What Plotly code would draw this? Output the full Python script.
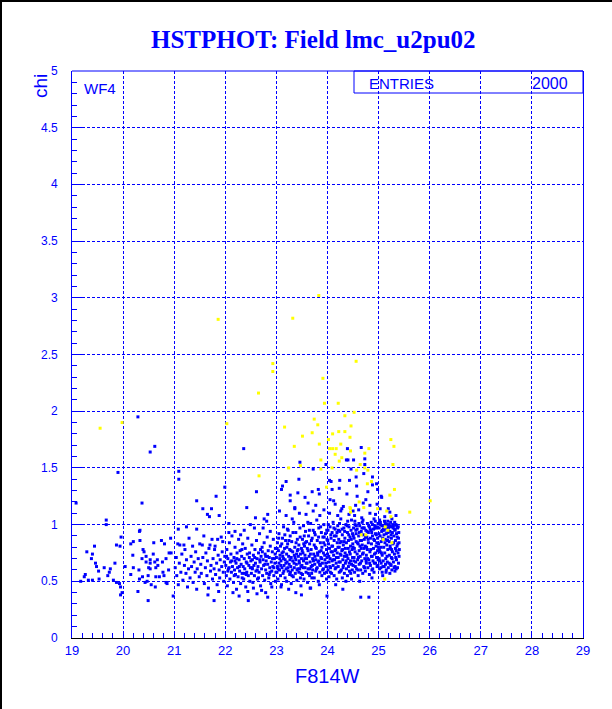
import plotly.graph_objects as go

# ---------------- data ----------------
title_text = "HSTPHOT: Field lmc_u2pu02"
x_label = "F814W"
y_label = "chi"
field_label = "WF4"
entries_label = "ENTRIES"
entries_value = "2000"
x_range = [19, 29]
y_range = [0, 5]
y_tick_vals = [0, 0.5, 1, 1.5, 2, 2.5, 3, 3.5, 4, 4.5, 5]
y_tick_text = ["0", "0.5", "1", "1.5", "2", "2.5", "3", "3.5", "4", "4.5", "5"]

blue_19_21 = [
    (19.17,0.50),(19.24,0.54),(19.26,0.56),(19.29,0.76),(19.32,0.51),(19.38,0.70),(19.40,0.74),
    (19.40,0.51),(19.44,0.81),(19.46,0.66),(19.48,0.63),(19.52,0.59),(19.53,0.52),(19.63,0.62),
    (19.67,1.00),(19.70,0.55),(19.73,0.58),(19.75,0.61),(19.81,0.51),(19.84,0.66),(19.87,0.82),
    (19.87,0.49),(19.93,0.48),(19.94,0.81),(19.95,0.45),(19.95,0.38),(19.96,0.89),(19.98,0.40),
    (20.04,0.63),(20.15,0.83),(20.15,0.56),(20.19,0.73),(20.20,0.85),(20.20,0.62),(20.29,0.41),
    (20.31,0.60),(20.32,0.94),(20.32,0.52),(20.33,0.86),(20.37,0.70),(20.38,0.54),(20.39,0.78),
    (20.41,0.76),(20.43,0.49),(20.45,0.72),(20.45,0.67),(20.47,0.50),(20.49,0.55),(20.49,0.33),
    (20.50,0.62),(20.53,0.69),(20.53,0.66),(20.53,0.61),(20.55,0.47),(20.59,0.74),(20.60,0.84),
    (20.62,0.67),(20.63,0.45),(20.64,0.54),(20.64,0.62),(20.67,0.69),(20.68,0.64),(20.71,0.54),
    (20.75,0.86),(20.77,0.67),(20.78,0.58),(20.80,0.55),(20.81,0.83),(20.84,0.70),(20.84,0.49),
    (20.86,0.48),(20.89,0.60),(20.90,0.75),(20.93,0.88),(20.94,0.75),(20.98,0.37),(20.33,0.95),
]

blue_21_23 = [
    (21.02,0.62),(21.04,0.71),(21.05,0.55),(21.07,0.83),(21.08,0.47),(21.10,0.66),(21.11,0.82),
    (21.13,0.58),(21.15,0.74),(21.17,0.51),(21.19,0.82),(21.20,0.64),(21.21,0.78),(21.23,0.57),
    (21.24,0.69),(21.26,0.45),(21.28,0.61),(21.29,0.88),(21.31,0.53),(21.33,0.72),(21.34,0.63),
    (21.36,0.81),(21.37,0.49),(21.39,0.67),(21.41,0.58),(21.42,0.76),(21.44,0.43),(21.45,0.61),
    (21.47,0.70),(21.49,0.54),(21.08,0.96),(21.24,0.98),(21.44,0.96),
    (21.50,0.83),(21.52,0.65),(21.53,0.57),(21.55,0.82),(21.56,0.71),(21.58,0.90),(21.59,0.48),
    (21.61,0.62),(21.62,0.75),(21.64,0.55),(21.65,0.68),(21.67,0.44),(21.68,0.79),(21.70,0.82),
    (21.71,0.59),(21.72,0.64),(21.74,0.87),(21.75,0.52),(21.76,0.70),(21.78,0.61),(21.79,0.78),
    (21.80,0.81),(21.81,0.56),(21.83,0.66),(21.84,0.47),(21.85,0.87),(21.86,0.73),(21.88,0.60),
    (21.89,0.53),(21.90,0.69),(21.92,0.89),(21.93,0.63),(21.94,0.76),(21.95,0.85),(21.96,0.58),
    (21.97,0.50),(21.98,0.67),(21.99,0.72),(21.87,0.41),(21.66,0.38),
    (22.01,0.64),(22.02,0.55),(22.03,0.78),(22.04,0.46),(22.05,0.70),(22.06,0.61),(22.08,0.84),
    (22.09,0.52),(22.10,0.67),(22.11,0.74),(22.12,0.58),(22.13,0.90),(22.14,0.63),(22.16,0.49),
    (22.17,0.71),(22.18,0.60),(22.19,0.80),(22.20,0.56),(22.21,0.66),(22.22,0.43),(22.23,0.75),
    (22.24,0.62),(22.25,0.54),(22.26,0.87),(22.27,0.69),(22.28,0.59),(22.29,0.77),(22.30,0.48),
    (22.31,0.65),(22.32,0.72),(22.33,0.57),(22.34,0.83),(22.35,0.63),(22.36,0.52),(22.37,0.70),
    (22.38,0.61),(22.39,0.79),(22.40,0.45),(22.41,0.67),(22.42,0.58),(22.43,0.74),(22.44,0.88),
    (22.45,0.55),(22.46,0.64),(22.47,0.71),(22.48,0.50),(22.49,0.62),(22.15,0.40),(22.27,0.37),
    (22.44,0.41),(22.07,0.93),(22.33,0.53),(22.19,0.68),(22.41,0.56),(22.05,0.59),(22.19,0.94),
    (22.30,0.91),(22.37,0.95),(22.49,1.00),
    (22.50,0.68),(22.51,0.57),(22.52,0.82),(22.53,0.61),(22.54,0.49),(22.55,0.73),(22.56,0.64),
    (22.57,0.55),(22.58,0.78),(22.59,0.66),(22.60,0.59),(22.61,0.86),(22.62,0.70),(22.63,0.52),
    (22.64,0.63),(22.65,0.75),(22.66,0.58),(22.67,0.92),(22.68,0.67),(22.69,0.46),(22.70,0.72),
    (22.71,0.61),(22.72,0.80),(22.73,0.55),(22.74,0.69),(22.75,0.64),(22.76,0.84),(22.77,0.51),
    (22.78,0.74),(22.79,0.60),(22.80,0.68),(22.81,0.57),(22.82,0.89),(22.83,0.65),(22.84,0.77),
    (22.85,0.53),(22.86,0.71),(22.87,0.62),(22.88,0.81),(22.89,0.48),(22.90,0.67),(22.91,0.59),
    (22.92,0.76),(22.93,0.63),(22.94,0.87),(22.95,0.55),(22.96,0.70),(22.97,0.66),(22.98,0.79),
    (22.99,0.58),(22.55,0.44),(22.62,0.39),(22.71,0.42),(22.83,0.36),(22.91,0.45),(22.57,0.97),
    (22.74,0.97),(22.88,0.94),(22.65,0.53),(22.79,0.72),(22.95,0.62),(22.53,0.69),(22.86,0.56),
    (22.69,0.78),(22.98,0.50),
    (22.025,0.72),(22.075,0.62),(22.125,0.68),(22.175,0.55),(22.225,0.70),(22.275,0.63),
    (22.325,0.78),(22.375,0.57),(22.425,0.66),(22.475,0.75),(22.525,0.62),(22.575,0.71),
    (22.625,0.60),(22.675,0.69),(22.725,0.76),(22.775,0.65),(22.825,0.72),(22.875,0.58),
    (22.925,0.70),(22.975,0.74),
]

blue_23_24 = [
    (23.00,0.71),(23.01,0.58),(23.02,0.84),(23.02,0.63),(23.03,0.52),(23.04,0.77),(23.05,0.66),
    (23.05,0.92),(23.06,0.60),(23.07,0.73),(23.08,0.55),(23.08,0.81),(23.09,0.68),(23.10,0.47),
    (23.11,0.75),(23.11,0.62),(23.12,0.88),(23.13,0.57),(23.14,0.70),(23.14,0.98),(23.15,0.64),
    (23.16,0.79),(23.17,0.53),(23.17,0.69),(23.18,0.86),(23.19,0.61),(23.20,0.74),(23.20,0.50),
    (23.21,0.67),(23.22,0.83),(23.23,0.59),(23.23,0.95),(23.24,0.72),(23.25,0.65),(23.26,0.56),
    (23.26,0.78),(23.27,0.90),(23.28,0.63),(23.29,0.71),(23.29,0.48),(23.30,0.85),(23.31,0.60),
    (23.32,0.76),(23.32,0.68),(23.33,0.54),(23.34,1.02),(23.35,0.73),(23.35,0.62),(23.36,0.80),
    (23.37,0.57),(23.38,0.69),(23.38,0.93),(23.39,0.65),(23.40,0.51),(23.41,0.77),(23.41,0.87),
    (23.42,0.61),(23.43,0.72),(23.44,0.58),(23.44,0.82),(23.45,0.66),(23.46,0.97),(23.47,0.74),
    (23.47,0.53),(23.48,0.63),(23.49,0.79),(23.49,0.70),
    (23.06,1.12),(23.19,1.08),(23.27,1.21),(23.36,1.15),(23.42,1.28),(23.12,1.34),(23.31,1.05),
    (23.45,1.10),(23.24,0.43),(23.38,0.40),(23.09,0.45),(23.48,0.46),
    (23.50,0.64),(23.51,0.87),(23.51,0.56),(23.52,0.75),(23.53,0.99),(23.53,0.68),(23.54,0.52),
    (23.55,0.81),(23.56,0.62),(23.56,0.73),(23.57,0.94),(23.58,0.58),(23.59,0.70),(23.59,0.85),
    (23.60,0.66),(23.61,0.49),(23.62,0.77),(23.62,0.61),(23.63,0.90),(23.64,0.72),(23.65,0.55),
    (23.65,0.83),(23.66,0.67),(23.67,1.01),(23.68,0.63),(23.68,0.78),(23.69,0.57),(23.70,0.88),
    (23.71,0.70),(23.71,0.60),(23.72,0.95),(23.73,0.74),(23.74,0.53),(23.74,0.82),(23.75,0.65),
    (23.76,0.91),(23.77,0.69),(23.77,0.59),(23.78,0.79),(23.79,1.04),(23.80,0.62),(23.80,0.86),
    (23.81,0.73),(23.82,0.50),(23.83,0.68),(23.83,0.97),(23.84,0.76),(23.85,0.58),(23.86,0.84),
    (23.86,0.64),(23.87,0.71),(23.88,0.93),(23.89,0.55),(23.89,0.80),(23.90,0.66),(23.91,0.89),
    (23.92,0.61),(23.92,0.75),(23.93,1.00),(23.94,0.57),(23.95,0.82),(23.95,0.69),(23.96,0.92),
    (23.97,0.63),(23.98,0.78),(23.98,0.52),(23.99,0.87),(23.99,0.71),(23.58,1.09),(23.77,1.17),
    (23.93,1.13),(23.66,0.44),(23.84,0.47),
]

blue_24_25 = [
    (24.00,0.74),(24.01,0.60),(24.01,0.95),(24.02,0.83),(24.03,0.67),(24.03,0.54),(24.04,0.79),
    (24.05,0.98),(24.05,0.70),(24.06,0.62),(24.07,0.88),(24.07,0.76),(24.08,0.57),(24.09,0.93),
    (24.09,0.68),(24.10,0.81),(24.11,0.64),(24.11,1.02),(24.12,0.73),(24.13,0.55),(24.13,0.86),
    (24.14,0.69),(24.15,0.96),(24.15,0.61),(24.16,0.78),(24.17,0.90),(24.17,0.66),(24.18,0.52),
    (24.19,0.84),(24.19,0.75),(24.20,0.99),(24.21,0.63),(24.21,0.71),(24.22,0.87),(24.23,0.58),
    (24.23,0.80),(24.24,0.94),(24.25,0.67),(24.25,0.74),(24.26,1.05),(24.27,0.60),(24.27,0.85),
    (24.28,0.77),(24.29,0.53),(24.29,0.91),(24.30,0.69),(24.31,0.82),(24.31,0.64),(24.32,0.97),
    (24.33,0.72),(24.33,0.57),(24.34,0.88),(24.35,0.79),(24.35,0.66),(24.36,1.00),(24.37,0.61),
    (24.37,0.84),(24.38,0.73),(24.39,0.93),(24.39,0.55),(24.40,0.70),(24.41,0.86),(24.41,0.63),
    (24.42,0.98),(24.43,0.76),(24.43,0.59),(24.44,0.89),(24.45,0.68),(24.45,0.81),(24.46,0.95),
    (24.47,0.65),(24.47,0.52),(24.48,0.78),(24.49,0.92),(24.49,0.71),
    (24.04,1.10),(24.12,1.21),(24.20,1.08),(24.31,1.16),(24.38,1.27),(24.47,1.04),(24.09,1.31),
    (24.26,1.12),(24.42,1.09),(24.16,0.47),(24.36,0.50),
    (24.50,0.80),(24.50,0.64),(24.51,0.97),(24.52,0.71),(24.52,0.88),(24.53,0.58),(24.54,0.76),
    (24.54,1.00),(24.55,0.67),(24.56,0.85),(24.56,0.92),(24.57,0.61),(24.58,0.74),(24.58,0.96),
    (24.59,0.69),(24.60,0.83),(24.60,0.55),(24.61,0.90),(24.62,0.77),(24.62,0.65),(24.63,0.99),
    (24.64,0.72),(24.64,0.86),(24.65,0.60),(24.66,0.94),(24.66,0.79),(24.67,0.68),(24.68,1.02),
    (24.68,0.82),(24.69,0.57),(24.70,0.91),(24.70,0.75),(24.71,0.63),(24.72,0.97),(24.72,0.87),
    (24.73,0.70),(24.74,0.81),(24.74,0.59),(24.75,0.95),(24.76,0.73),(24.76,0.66),(24.77,0.89),
    (24.78,1.01),(24.78,0.78),(24.79,0.62),(24.80,0.93),(24.80,0.84),(24.81,0.69),(24.82,0.56),
    (24.82,0.98),(24.83,0.76),(24.84,0.88),(24.84,0.64),(24.85,0.95),(24.86,0.72),(24.86,0.83),
    (24.87,0.60),(24.88,1.00),(24.88,0.90),(24.89,0.68),(24.90,0.79),(24.90,0.96),(24.91,0.58),
    (24.92,0.86),(24.92,0.74),(24.93,0.99),(24.94,0.66),(24.94,0.92),(24.95,0.81),(24.96,0.71),
    (24.96,0.97),(24.97,0.63),(24.98,0.88),(24.98,0.77),(24.99,1.01),(24.99,0.69),
    (24.53,1.08),(24.61,1.13),(24.67,1.06),(24.75,1.22),(24.83,1.10),(24.91,1.05),(24.97,1.18),
    (24.58,1.25),(24.79,1.29),(24.63,0.50),(24.87,0.53),(24.55,1.17),(24.94,1.09),
]

blue_25_up = [
    (25.00,0.83),(25.01,0.70),(25.01,0.97),(25.02,0.61),(25.03,0.90),(25.03,0.76),(25.04,1.00),
    (25.05,0.66),(25.05,0.85),(25.06,0.94),(25.07,0.73),(25.07,0.58),(25.08,0.88),(25.09,0.99),
    (25.09,0.68),(25.10,0.80),(25.11,0.63),(25.11,0.95),(25.12,0.75),(25.13,0.87),(25.13,1.01),
    (25.14,0.70),(25.15,0.60),(25.15,0.92),(25.16,0.82),(25.17,0.97),(25.17,0.67),(25.18,0.78),
    (25.19,0.89),(25.19,0.62),(25.20,1.00),(25.21,0.73),(25.21,0.85),(25.22,0.94),(25.23,0.65),
    (25.23,0.79),(25.24,0.98),(25.25,0.71),(25.25,0.88),(25.26,0.60),(25.27,0.93),(25.27,0.76),
    (25.28,0.83),(25.29,0.99),(25.29,0.67),(25.30,0.90),(25.31,0.74),(25.31,0.96),(25.32,0.63),
    (25.33,0.86),(25.33,0.79),(25.34,1.00),(25.35,0.69),(25.35,0.92),(25.36,0.81),(25.37,0.62),
    (25.37,0.97),(25.38,0.75),(25.39,0.88),(25.39,0.66),(25.02,1.04),(25.12,1.07),(25.18,1.03),
    (25.26,1.05),(25.34,1.08),(25.08,0.55),(25.22,0.57),(25.32,0.59),(25.40,0.72),(25.40,0.84),
]

blue_core_extra = [
    (23.015,0.79),(23.035,0.61),(23.045,0.88),(23.065,0.70),(23.085,0.64),(23.105,0.83),
    (23.125,0.72),(23.145,0.59),(23.165,0.91),(23.185,0.66),(23.205,0.80),(23.225,0.62),
    (23.245,0.86),(23.265,0.69),(23.285,0.77),(23.305,0.55),(23.325,0.93),(23.345,0.66),
    (23.365,0.71),(23.385,0.84),(23.405,0.60),(23.425,0.78),(23.445,0.68),(23.465,0.89),
    (23.485,0.57),(23.135,0.76),(23.275,0.58),(23.395,0.74),(23.215,0.96),(23.455,0.61),
    (23.505,0.77),(23.525,0.62),(23.545,0.90),(23.565,0.84),(23.585,0.66),(23.605,0.79),
    (23.625,0.57),(23.645,0.95),(23.665,0.74),(23.685,0.86),(23.705,0.64),(23.725,0.68),
    (23.745,0.93),(23.765,0.80),(23.785,0.61),(23.805,0.75),(23.825,0.89),(23.845,0.65),
    (23.865,0.98),(23.885,0.70),(23.905,0.60),(23.925,0.84),(23.945,0.73),(23.965,0.66),
    (23.985,0.95),(23.555,0.70),(23.615,1.02),(23.695,0.53),(23.755,0.72),(23.815,0.67),
    (23.875,0.77),(23.935,0.89),(23.975,0.58),(23.535,0.83),(23.655,0.61),
    (24.005,0.86),(24.025,0.72),(24.045,0.63),(24.065,0.91),(24.085,0.81),(24.105,0.69),
    (24.125,0.97),(24.145,0.77),(24.165,0.62),(24.185,0.93),(24.205,0.80),(24.225,0.67),
    (24.245,0.84),(24.265,0.73),(24.285,0.96),(24.305,0.62),(24.325,0.85),(24.345,0.75),
    (24.365,0.68),(24.385,0.99),(24.405,0.79),(24.425,0.66),(24.445,0.74),(24.465,0.87),
    (24.485,0.60),(24.015,1.00),(24.055,0.58),(24.095,0.76),(24.135,0.90),(24.175,0.71),
    (24.215,0.95),(24.255,0.59),(24.295,0.78),(24.335,0.94),(24.375,0.72),(24.415,0.91),
    (24.455,0.57),(24.495,0.83),(24.235,1.01),(24.395,1.03),
    (24.505,0.90),(24.525,0.79),(24.545,0.63),(24.565,0.99),(24.585,0.84),(24.605,0.71),
    (24.625,0.93),(24.645,0.66),(24.665,0.86),(24.685,0.74),(24.705,0.97),(24.725,0.62),
    (24.745,0.89),(24.765,0.80),(24.785,0.70),(24.805,0.99),(24.825,0.66),(24.845,0.78),
    (24.865,0.93),(24.885,0.61),(24.905,0.87),(24.925,0.97),(24.945,0.75),(24.965,0.84),
    (24.985,0.64),(24.515,0.68),(24.555,0.95),(24.595,0.60),(24.635,0.81),(24.675,0.97),
    (24.715,0.79),(24.755,0.68),(24.795,0.87),(24.835,0.96),(24.875,0.72),(24.915,0.66),
    (24.955,0.91),(24.995,0.80),(24.535,1.03),(24.615,1.01),(24.695,1.04),(24.775,0.94),
    (24.855,1.02),(24.935,1.03),(24.975,0.98),
    (25.005,0.92),(25.025,0.68),(25.045,0.80),(25.065,0.99),(25.085,0.63),(25.105,0.91),
    (25.125,0.84),(25.145,0.97),(25.165,0.72),(25.185,0.93),(25.205,0.66),(25.225,0.81),
    (25.245,0.91),(25.265,0.70),(25.285,0.97),(25.305,0.62),(25.325,0.95),(25.345,0.77),
    (25.365,0.89),(25.385,0.98),(25.015,0.78),(25.055,0.75),(25.095,0.96),(25.135,0.65),
    (25.175,0.86),(25.215,0.99),(25.255,0.78),(25.295,0.84),(25.335,0.71),(25.375,0.83),
    (25.035,1.02),(25.075,0.95),(25.115,1.03),(25.155,1.00),(25.195,0.97),(25.235,1.02),
    (25.275,1.00),(25.315,1.02),(25.355,0.99),(25.395,0.93),(25.045,0.62),(25.145,0.58),
    (25.245,0.64),(25.345,0.61),(25.405,0.78),
]

blue_high = [
    (19.08,1.19),(19.67,1.04),(19.90,1.46),(20.29,1.95),(20.37,1.19),(20.53,1.64),(20.62,1.69),
    (21.09,1.47),(21.09,1.40),(21.44,1.21),(21.56,1.14),(21.73,1.14),(21.82,1.25),(21.65,1.09),
    (21.69,1.07),(21.88,1.08),(21.99,1.33),(22.07,1.01),(22.36,1.67),(22.42,1.15),(22.61,1.29),
    (22.59,1.06),(22.76,1.05),(22.83,1.09),(22.81,1.03),
    (23.46,1.55),(23.44,1.40),(23.19,1.38),(23.72,1.49),(23.70,1.29),(23.82,1.31),(23.84,1.27),
    (24.07,1.38),(24.23,1.32),(24.40,1.57),(24.39,1.67),(24.51,1.57),(24.56,1.42),(24.66,1.68),
    (24.71,1.45),(24.88,1.42),(24.88,1.35),(24.96,1.36),(25.05,1.25),(24.43,1.39),(24.57,1.34),
    (24.70,1.19),(24.98,1.31),(25.06,1.24),(24.24,1.39),(24.73,1.58),(24.73,1.53),(24.37,1.57),
    (24.46,1.49),(24.04,1.39),(23.97,1.53),(24.05,1.22),(23.36,1.14),(23.27,1.26),(23.10,1.31),
    (23.72,1.12),(23.85,1.08),(23.56,1.24),(23.62,1.19),(24.15,1.18),(24.28,1.14),(24.50,1.12),
    (24.83,1.17),(25.03,1.14),(25.19,1.14),(25.22,1.11),
]

blue_low = [
    (21.78,0.33),(22.45,0.33),(22.79,0.40),(23.49,0.38),(23.67,0.44),(24.65,0.36),(24.81,0.36),
    (24.30,0.43),(23.99,0.37),
]

yellow_pts = [
    (19.55,1.85),(19.98,1.90),(21.86,2.81),(22.03,1.89),(22.65,2.16),(22.66,1.43),(22.93,2.42),
    (22.93,2.35),(23.32,2.82),(23.83,3.02),(23.91,2.29),(24.56,2.44),(23.94,2.07),(24.21,2.07),
    (24.52,1.99),(24.34,1.96),(23.74,1.93),(23.81,1.88),(23.16,1.86),(24.46,1.87),(23.70,1.81),
    (24.10,1.80),(24.22,1.82),(24.34,1.82),(23.51,1.78),(24.44,1.77),(24.02,1.75),(24.26,1.71),
    (25.24,1.75),(25.30,1.69),(23.35,1.69),(23.84,1.71),(24.04,1.67),(24.10,1.67),(24.17,1.67),
    (24.45,1.65),(24.81,1.67),(24.15,1.62),(24.73,1.63),(24.28,1.59),(24.23,1.56),(23.87,1.57),
    (23.87,1.49),(24.09,1.50),(24.57,1.48),(24.64,1.53),(24.73,1.50),(24.79,1.48),(25.28,1.53),
    (23.47,1.52),(23.24,1.50),(23.98,1.33),(24.78,1.36),(24.86,1.38),(25.22,1.26),(25.31,1.31),
    (24.62,1.20),(24.71,1.15),(24.44,1.15),(24.98,1.14),(25.16,1.12),(25.61,1.11),(26.01,1.21),
    (25.24,1.07),(25.13,0.98),(25.18,0.95),(24.75,0.91),(25.09,0.87),(25.26,0.84),(25.12,0.52),
    (24.66,0.91),(24.45,1.14),(24.45,1.11),
]

# ---------------- styling ----------------
BLUE = "#0000ff"
YELLOW = "#ffff00"
W, H = 612, 709
L, R, T, B = 72, 29, 71, 71
PW, PH = W - L - R, H - T - B
SANS = "Liberation Sans, Arial, sans-serif"
SERIF = "Liberation Serif, Times New Roman, serif"


def px_x(p):  # pixel -> paper x
    return (p - L) / PW


def px_y(p):  # pixel -> paper y
    return (H - B - p) / PH


blue_all = (blue_19_21 + blue_21_23 + blue_23_24 + blue_24_25 + blue_25_up
            + blue_core_extra + blue_high + blue_low)

fig = go.Figure()
fig.add_trace(go.Scatter(
    x=[p[0] for p in blue_all], y=[p[1] for p in blue_all], mode="markers",
    marker=dict(symbol="square", size=3, color=BLUE, line=dict(width=0)),
    hoverinfo="skip", showlegend=False))
fig.add_trace(go.Scatter(
    x=[p[0] for p in yellow_pts], y=[p[1] for p in yellow_pts], mode="markers",
    marker=dict(symbol="square", size=3, color=YELLOW, line=dict(width=0)),
    hoverinfo="skip", showlegend=False))

fig.update_layout(
    width=W, height=H,
    margin=dict(l=L, r=R, t=T, b=B, pad=0),
    paper_bgcolor="white", plot_bgcolor="white",
    showlegend=False,
    font=dict(family=SANS, color=BLUE),
)

fig.update_xaxes(
    range=x_range, dtick=1, tick0=19, showline=True, linecolor="black", linewidth=1,
    mirror=False, ticks="inside", ticklen=5, tickcolor=BLUE, tickwidth=1,
    showgrid=True, gridcolor=BLUE, gridwidth=1, griddash="3px,2px",
    zeroline=False, tickfont=dict(family=SANS, size=13, color=BLUE),
    minor=dict(dtick=0.2, ticks="inside", ticklen=5, tickcolor=BLUE, showgrid=False),
    ticklabelstandoff=0, fixedrange=True,
)
fig.update_yaxes(
    range=y_range, tickvals=y_tick_vals, showticklabels=False,
    showline=True, linecolor=BLUE, linewidth=1,
    mirror=True, ticks="inside", ticklen=10, tickcolor=BLUE, tickwidth=1,
    showgrid=True, gridcolor=BLUE, gridwidth=1, griddash="3px,2px",
    zeroline=False,
    minor=dict(dtick=0.1, ticks="inside", ticklen=5, tickcolor=BLUE, showgrid=False),
    fixedrange=True,
)

shapes = [
    dict(type="line", xref="paper", yref="paper", x0=0, x1=1, y0=1, y1=1,
         line=dict(color=BLUE, width=1)),
    dict(type="rect", xref="paper", yref="paper", x0=px_x(354), x1=1, y0=px_y(93), y1=1,
         line=dict(color=BLUE, width=1), fillcolor="rgba(0,0,0,0)"),
    dict(type="rect", xref="paper", yref="paper", x0=px_x(0), x1=px_x(2), y0=px_y(H), y1=px_y(0),
         line=dict(width=0), fillcolor="black"),
    dict(type="rect", xref="paper", yref="paper", x0=px_x(0), x1=px_x(W), y0=px_y(2), y1=px_y(0),
         line=dict(width=0), fillcolor="black"),
]
fig.update_layout(shapes=shapes)

annotations = [
    dict(text="<b>" + title_text + "</b>", xref="paper", yref="paper", x=px_x(313), y=px_y(40),
         xanchor="center", yanchor="middle", showarrow=False,
         font=dict(family=SERIF, size=25, color=BLUE)),
    dict(text=x_label, xref="paper", yref="paper", x=px_x(327), y=px_y(676),
         xanchor="center", yanchor="middle", showarrow=False,
         font=dict(family=SANS, size=20, color=BLUE)),
    dict(text=y_label, xref="paper", yref="paper", x=px_x(40), y=px_y(86),
         xanchor="center", yanchor="middle", showarrow=False, textangle=-90,
         font=dict(family=SANS, size=19, color=BLUE)),
    dict(text=field_label, xref="paper", yref="paper", x=px_x(82), y=px_y(88),
         xanchor="left", yanchor="middle", showarrow=False,
         font=dict(family=SANS, size=15, color=BLUE)),
    dict(text=entries_label, xref="paper", yref="paper", x=px_x(367), y=px_y(83),
         xanchor="left", yanchor="middle", showarrow=False,
         font=dict(family=SANS, size=15, color=BLUE)),
    dict(text=entries_value, xref="paper", yref="paper", x=px_x(570), y=px_y(83),
         xanchor="right", yanchor="middle", showarrow=False,
         font=dict(family=SANS, size=16, color=BLUE)),
]
for v, t in zip(y_tick_vals, y_tick_text):
    annotations.append(dict(text=t, xref="paper", yref="y", x=px_x(60), y=v,
                            xanchor="right", yanchor="middle", showarrow=False,
                            font=dict(family=SANS, size=12, color=BLUE)))
fig.update_layout(annotations=annotations)

fig.write_html("out.html", config={"displayModeBar": False, "staticPlot": True},
               post_script="document.body.style.margin='0px';")
